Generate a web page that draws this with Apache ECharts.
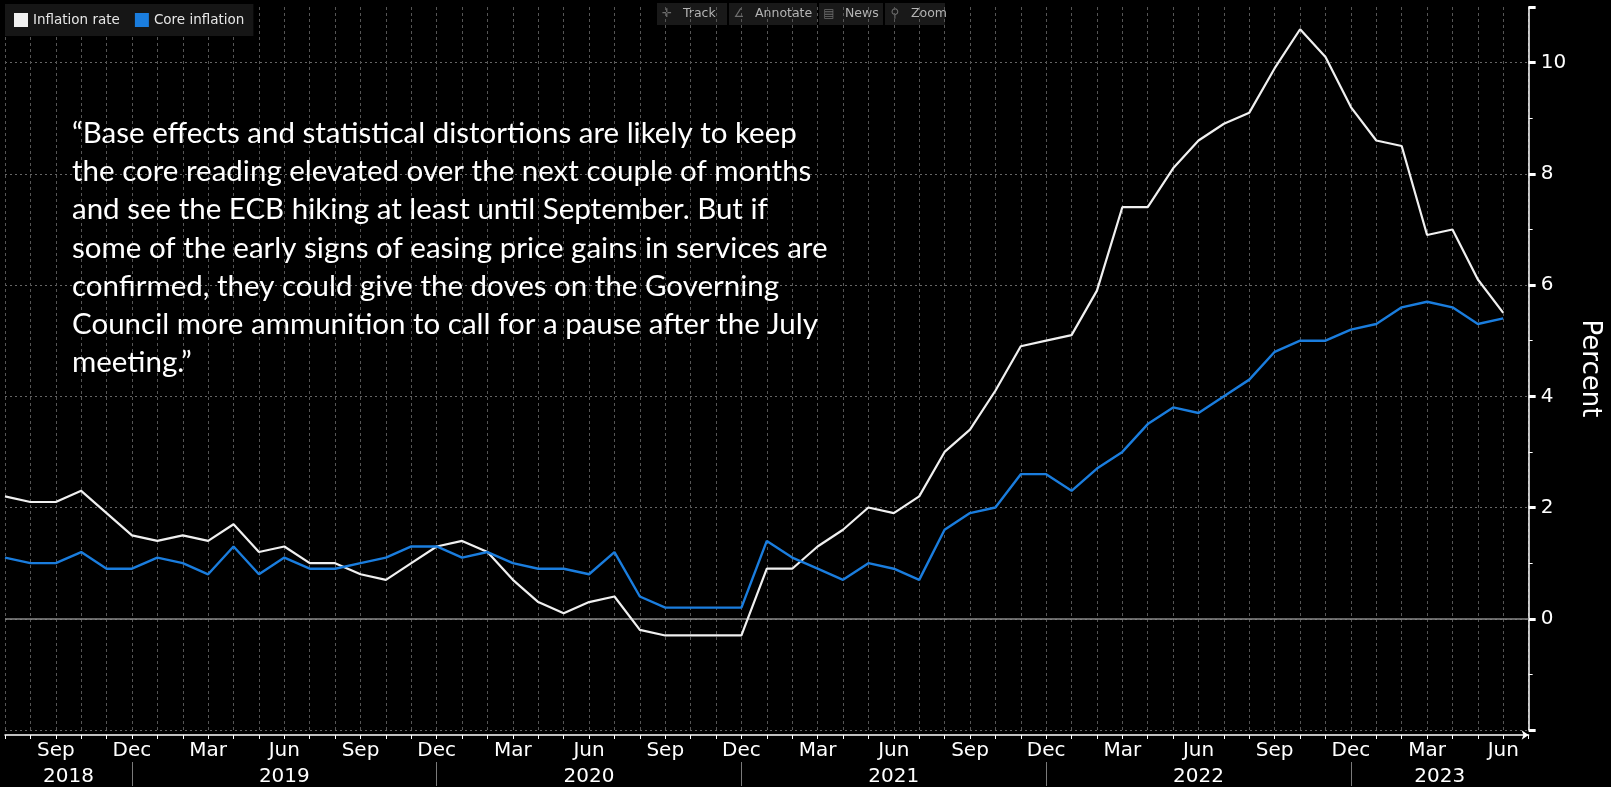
<!DOCTYPE html>
<html>
<head>
<meta charset="utf-8">
<title>Euro area inflation</title>
<script src="https://cdn.jsdelivr.net/npm/echarts@6/dist/echarts.min.js"></script>
<style>
  html, body { margin: 0; padding: 0; background: #000; }
  #chart { width: 1611px; height: 787px; }
</style>
</head>
<body>
<div id="chart"></div>
<script>
// Monthly observations, Jul 2018 .. Jun 2023 (last category is an empty slot for Jul 2023)
const months = [
  '2018-07','2018-08','2018-09','2018-10','2018-11','2018-12',
  '2019-01','2019-02','2019-03','2019-04','2019-05','2019-06','2019-07','2019-08','2019-09','2019-10','2019-11','2019-12',
  '2020-01','2020-02','2020-03','2020-04','2020-05','2020-06','2020-07','2020-08','2020-09','2020-10','2020-11','2020-12',
  '2021-01','2021-02','2021-03','2021-04','2021-05','2021-06','2021-07','2021-08','2021-09','2021-10','2021-11','2021-12',
  '2022-01','2022-02','2022-03','2022-04','2022-05','2022-06','2022-07','2022-08','2022-09','2022-10','2022-11','2022-12',
  '2023-01','2023-02','2023-03','2023-04','2023-05','2023-06','2023-07'
];

const inflationRate = [
  2.2, 2.1, 2.1, 2.3, 1.9, 1.5,
  1.4, 1.5, 1.4, 1.7, 1.2, 1.3, 1.0, 1.0, 0.8, 0.7, 1.0, 1.3,
  1.4, 1.2, 0.7, 0.3, 0.1, 0.3, 0.4, -0.2, -0.3, -0.3, -0.3, -0.3,
  0.9, 0.9, 1.3, 1.6, 2.0, 1.9, 2.2, 3.0, 3.4, 4.1, 4.9, 5.0,
  5.1, 5.9, 7.4, 7.4, 8.1, 8.6, 8.9, 9.1, 9.9, 10.6, 10.1, 9.2,
  8.6, 8.5, 6.9, 7.0, 6.1, 5.5
];

const coreInflation = [
  1.1, 1.0, 1.0, 1.2, 0.9, 0.9,
  1.1, 1.0, 0.8, 1.3, 0.8, 1.1, 0.9, 0.9, 1.0, 1.1, 1.3, 1.3,
  1.1, 1.2, 1.0, 0.9, 0.9, 0.8, 1.2, 0.4, 0.2, 0.2, 0.2, 0.2,
  1.4, 1.1, 0.9, 0.7, 1.0, 0.9, 0.7, 1.6, 1.9, 2.0, 2.6, 2.6,
  2.3, 2.7, 3.0, 3.5, 3.8, 3.7, 4.0, 4.3, 4.8, 5.0, 5.0, 5.2,
  5.3, 5.6, 5.7, 5.6, 5.3, 5.4
];

const monthNames = ['Jan','Feb','Mar','Apr','May','Jun','Jul','Aug','Sep','Oct','Nov','Dec'];
const labelledMonths = ['Mar','Jun','Sep','Dec'];
const seriesNames = ['Inflation rate', 'Core inflation'];
const toolbarItems = [
  { icon: '✛', text: 'Track' },
  { icon: '∠', text: 'Annotate' },
  { icon: '▤', text: 'News' },
  { icon: '⚲', text: 'Zoom' }
];
const quoteLines = [
  '“Base effects and statistical distortions are likely to keep',
  'the core reading elevated over the next couple of months',
  'and see the ECB hiking at least until September. But if',
  'some of the early signs of easing price gains in services are',
  'confirmed, they could give the doves on the Governing',
  'Council more ammunition to call for a pause after the July',
  'meeting.”'
];

const AXIS_FONT = 'DejaVu Sans';
const WHITE = '#f0f0f0';
const BLUE = '#1a7dde';

const monthOf = v => monthNames[parseInt(v.slice(5, 7), 10) - 1];

// Year row: a half-month category axis so each year name sits in the middle
// of its span, with separators at every December.
const lastIdx = months.length - 1;
const decIdx = months.map((m, i) => (m.endsWith('-12') ? i : -1)).filter(i => i >= 0);
const bounds = [0, ...decIdx, lastIdx];
const yearSlots = new Array(lastIdx * 2 + 1).fill('');
for (let k = 0; k < bounds.length - 1; k++) {
  yearSlots[bounds[k] + bounds[k + 1]] = months[bounds[k + 1]].slice(0, 4);
}
const separatorSlots = decIdx.map(i => i * 2);

// Toolbar strip at the top
const toolbarChildren = [];
(function () {
  const boxes = [[657, 70], [729, 88], [819, 64], [885, 60]];
  toolbarItems.forEach((it, i) => {
    const [x, w] = boxes[i];
    toolbarChildren.push({
      type: 'rect', shape: { x: x, y: 3, width: w, height: 22 },
      style: { fill: '#191919' }, silent: true
    });
    toolbarChildren.push({
      type: 'text', x: x + 10, y: 14,
      style: { text: it.icon, fill: '#6e6e6e', font: '12px "DejaVu Sans"', verticalAlign: 'middle', align: 'center' },
      silent: true
    });
    toolbarChildren.push({
      type: 'text', x: x + 26, y: 14,
      style: { text: it.text, fill: '#b4b4b4', font: '12.5px "DejaVu Sans"', verticalAlign: 'middle' },
      silent: true
    });
  });
})();

const chart = echarts.init(document.getElementById('chart'), null, { renderer: 'canvas' });

chart.setOption({
  backgroundColor: '#000',
  animation: false,
  textStyle: { fontFamily: AXIS_FONT },
  grid: { left: 5, right: 74, top: 7, bottom: 56.2, containLabel: false },
  legend: {
    data: seriesNames,
    left: 5, top: 4,
    padding: 9,
    itemGap: 15,
    itemWidth: 14, itemHeight: 14,
    icon: 'rect',
    backgroundColor: '#161616',
    textStyle: { color: '#e6e6e6', fontSize: 13.5, fontFamily: AXIS_FONT },
    selectedMode: false
  },
  xAxis: [
    {
      type: 'category',
      data: months,
      boundaryGap: false,
      offset: 5,
      axisLine: {
        show: true,
        onZero: false,
        symbol: ['none', 'arrow'], symbolSize: [7, 7],
        lineStyle: { color: '#ffffff', width: 1.5 }
      },
      axisTick: { show: true, interval: 0, length: 4, lineStyle: { color: '#ffffff' } },
      axisLabel: {
        interval: (i, v) => labelledMonths.includes(monthOf(v)),
        formatter: v => monthOf(v),
        color: '#ffffff', fontSize: 20, lineHeight: 20, margin: 6, fontFamily: AXIS_FONT
      },
      splitLine: { show: true, interval: 0, lineStyle: { color: '#555555', type: [3, 3], width: 1 } }
    },
    {
      type: 'category',
      data: yearSlots,
      boundaryGap: false,
      position: 'bottom',
      offset: 32,
      axisLine: { show: false, onZero: false },
      axisTick: {
        show: true,
        interval: i => separatorSlots.includes(i),
        length: 24,
        lineStyle: { color: '#7a7a7a', width: 1 }
      },
      axisLabel: {
        interval: (i, v) => v !== '',
        color: '#ffffff', fontSize: 20, lineHeight: 20, margin: 5, fontFamily: AXIS_FONT
      },
      splitLine: { show: false }
    }
  ],
  yAxis: {
    type: 'value',
    position: 'right',
    min: -2, max: 11, interval: 2,
    axisLine: { show: true, lineStyle: { color: '#ffffff', width: 1.5 } },
    axisTick: { show: true, length: 7, lineStyle: { color: '#ffffff', width: 3 } },
    minorTick: { show: true, splitNumber: 2, length: 4, lineStyle: { color: '#ffffff', width: 1 } },
    axisLabel: {
      color: '#ffffff', fontSize: 20, margin: 12, fontFamily: AXIS_FONT,
      formatter: v => (v < 0 || v > 10 ? '' : String(v))
    },
    splitLine: { show: true, showMaxLine: false, lineStyle: { color: '#666666', type: [2, 3], width: 1 } },
    name: 'Percent',
    nameLocation: 'middle',
    nameRotate: -90,
    nameGap: 42,
    nameTextStyle: { color: '#ffffff', fontSize: 26, fontFamily: AXIS_FONT }
  },
  series: [
    {
      name: seriesNames[0],
      type: 'line',
      data: inflationRate,
      symbol: 'none',
      color: WHITE,
      lineStyle: { color: WHITE, width: 2.2 },
      z: 3,
      markLine: {
        silent: true,
        symbol: 'none',
        label: { show: false },
        lineStyle: { color: '#8a8a8a', type: 'solid', width: 1.5 },
        data: [{ yAxis: 0 }],
        z: 1
      }
    },
    {
      name: seriesNames[1],
      type: 'line',
      data: coreInflation,
      symbol: 'none',
      color: BLUE,
      lineStyle: { color: BLUE, width: 2.4 },
      z: 4
    }
  ],
  graphic: [
    { type: 'group', children: toolbarChildren, z: 10 },
    {
      type: 'text',
      left: 72, top: 114,
      z: 10,
      silent: true,
      style: {
        text: quoteLines.join('\n'),
        fill: '#ffffff',
        font: '29.5px Lato',
        lineHeight: 38.3
      }
    }
  ]
});
</script>
</body>
</html>
